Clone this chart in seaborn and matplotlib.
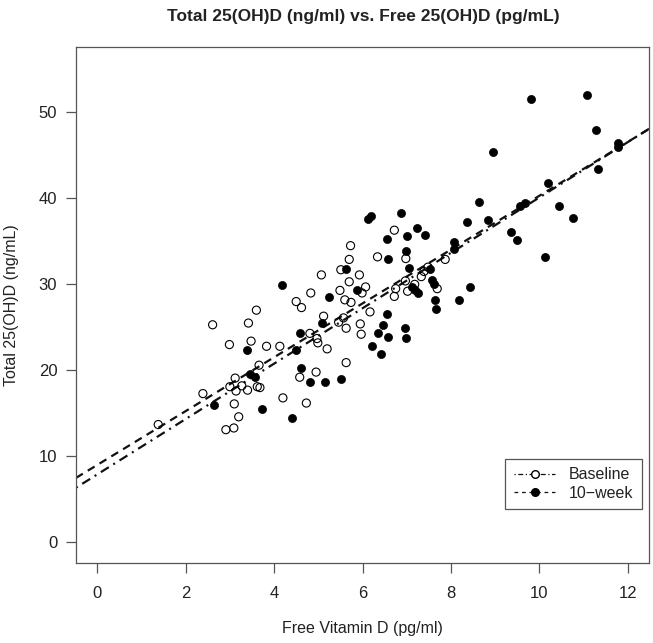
import numpy as np
import pandas as pd
import matplotlib
matplotlib.use("Agg")
import matplotlib.pyplot as plt
from matplotlib.lines import Line2D
import seaborn as sns

# ---- data ----
baseline_x = [1.38, 2.39, 2.61, 2.91, 3.09, 3.20, 3.10, 3.00, 3.14, 3.27, 3.40, 3.12, 2.99,
              3.42, 3.60, 3.48, 3.62, 3.68, 3.66, 3.83, 4.13, 4.20, 4.50, 4.62, 4.58, 4.73,
              4.83, 4.81, 4.97, 4.99, 4.95, 5.07, 5.12, 5.20, 5.51, 5.49, 5.57, 5.46, 5.63,
              5.63, 5.60, 5.74, 5.73, 5.70, 5.70, 5.93, 5.99, 5.95, 5.97, 6.07, 6.17, 6.34,
              6.72, 6.98, 6.97, 6.75, 6.72, 7.02, 7.18, 7.33, 7.39, 7.48, 7.87, 7.69]
baseline_y = [13.6, 17.2, 25.2, 13.0, 13.2, 14.5, 16.0, 18.0, 17.5, 18.1, 17.6, 19.0, 22.9,
              25.4, 26.9, 23.3, 18.0, 17.9, 20.5, 22.7, 22.7, 16.7, 27.9, 27.2, 19.1, 16.1,
              28.9, 24.2, 23.6, 23.1, 19.7, 31.0, 26.2, 22.4, 31.6, 29.2, 26.0, 25.5, 24.8,
              20.8, 28.1, 27.8, 34.4, 32.8, 30.2, 31.0, 28.9, 25.3, 24.1, 29.6, 26.7, 33.1,
              36.2, 32.9, 30.3, 29.4, 28.5, 29.1, 29.9, 30.8, 31.4, 31.9, 32.8, 29.4]

week10_x = [2.64, 3.39, 3.46, 3.57, 3.72, 4.19, 4.41, 4.49, 4.58, 4.60, 4.81, 5.09, 5.15,
            5.24, 5.52, 5.63, 5.87, 6.13, 6.19, 6.22, 6.41, 6.34, 6.46, 6.55, 6.57, 6.58,
            6.55, 6.86, 6.96, 6.98, 6.98, 7.00, 7.05, 7.11, 7.18, 7.26, 7.24, 7.42, 7.53,
            7.58, 7.61, 7.63, 7.66, 8.07, 8.08, 8.19, 8.37, 8.44, 8.64, 8.83, 8.95, 9.36,
            9.49, 9.57, 9.67, 9.80, 10.13, 10.20, 10.44, 10.77, 11.07, 11.27, 11.33, 11.77, 11.79]
week10_y = [15.9, 22.3, 19.5, 19.1, 15.4, 29.8, 14.4, 22.3, 24.3, 20.2, 18.6, 25.4, 18.5,
            28.4, 18.9, 31.7, 29.2, 37.5, 37.9, 22.7, 21.8, 24.2, 25.2, 26.4, 23.8, 32.8,
            35.2, 38.2, 24.8, 23.7, 33.8, 35.5, 31.8, 29.6, 29.2, 28.9, 36.4, 35.6, 31.7,
            30.4, 30.0, 28.1, 27.0, 34.8, 34.0, 28.1, 37.2, 29.6, 39.5, 37.4, 45.3, 36.0,
            35.1, 39.0, 39.4, 51.5, 33.1, 41.7, 39.0, 37.6, 51.9, 47.9, 43.3, 45.9, 46.3]

# fitted regression lines (intercept, slope)
fit_baseline = [7.8, 3.22]
fit_week10 = [8.9, 3.13]

group_labels = ["Baseline", "10\u2212week"]
x_ticks = [0, 2, 4, 6, 8, 10, 12]
y_ticks = [0, 10, 20, 30, 40, 50]

title = "Total 25(OH)D (ng/ml) vs. Free 25(OH)D (pg/mL)"
xlabel = "Free Vitamin D (pg/ml)"
ylabel = "Total 25(OH)D (ng/mL)"

# ---- style ----
sns.set_theme(style="ticks")
plt.rcParams["font.family"] = ["Liberation Sans", "DejaVu Sans"]
spine_col = "#555555"
text_col = "#222222"

df_b = pd.DataFrame({"x": baseline_x, "y": baseline_y})
df_w = pd.DataFrame({"x": week10_x, "y": week10_y})

fig = plt.figure(figsize=(6.53, 6.43), dpi=100)
ax = fig.add_axes([76 / 653, 1 - 563 / 643, (649 - 76) / 653, (563 - 47) / 643])

sns.scatterplot(data=df_b, x="x", y="y", ax=ax, s=34, marker="o",
                facecolor="none", edgecolor="black", linewidth=0.8, zorder=3)
sns.scatterplot(data=df_w, x="x", y="y", ax=ax, s=34, marker="o",
                color="black", edgecolor="black", linewidth=0.5, zorder=3)

ax.set_xlim(-0.48, 12.48)
ax.set_ylim(-2.5, 57.5)

lw = 1.6
ax.axline((0, fit_baseline[0]), slope=fit_baseline[1], color="#111111", lw=lw,
          dashes=(0.9, 2.4, 4.2, 2.4), zorder=2)
ax.axline((0, fit_week10[0]), slope=fit_week10[1], color="#111111", lw=lw,
          dashes=(3.6, 2.6), zorder=2)

ax.set_xticks(x_ticks)
ax.set_yticks(y_ticks)
ax.tick_params(axis="both", direction="out", length=7.5, width=0.9, color=spine_col,
               labelsize=12, labelcolor=text_col)
ax.tick_params(axis="x", pad=9)
ax.tick_params(axis="y", pad=6)
for s in ax.spines.values():
    s.set_color(spine_col)
    s.set_linewidth(0.9)
    s.set_visible(True)

ax.set_xlabel(xlabel, fontsize=11.5, color=text_col)
ax.set_ylabel(ylabel, fontsize=11.5, color=text_col)
ax.xaxis.set_label_coords(0.5, -0.127)
ax.yaxis.set_label_coords(-0.112, 0.5)
ax.xaxis.label.set_va("center")
ax.yaxis.label.set_va("center")

fig.text(363 / 653, 1 - 16 / 643, title, ha="center", va="center",
         fontsize=12.5, fontweight="bold", color=text_col)

handles = [
    Line2D([0], [0], color="#111111", lw=0.9, dashes=(1, 2, 4, 2), marker="o",
           markerfacecolor="white", markeredgecolor="black", markersize=5.5),
    Line2D([0], [0], color="#111111", lw=0.9, dashes=(3, 3), marker="o",
           markerfacecolor="black", markeredgecolor="black", markersize=5.5),
]
leg = ax.legend(handles, group_labels, loc="lower right", bbox_to_anchor=(0.987, 0.104),
                frameon=True, fancybox=False, edgecolor=spine_col, framealpha=1,
                fontsize=11.5, handlelength=2.6, handletextpad=0.8, borderpad=0.55,
                labelspacing=0.2, borderaxespad=0)
leg.get_frame().set_linewidth(0.9)
for t in leg.get_texts():
    t.set_color(text_col)

fig.savefig("out.png", dpi=100)
